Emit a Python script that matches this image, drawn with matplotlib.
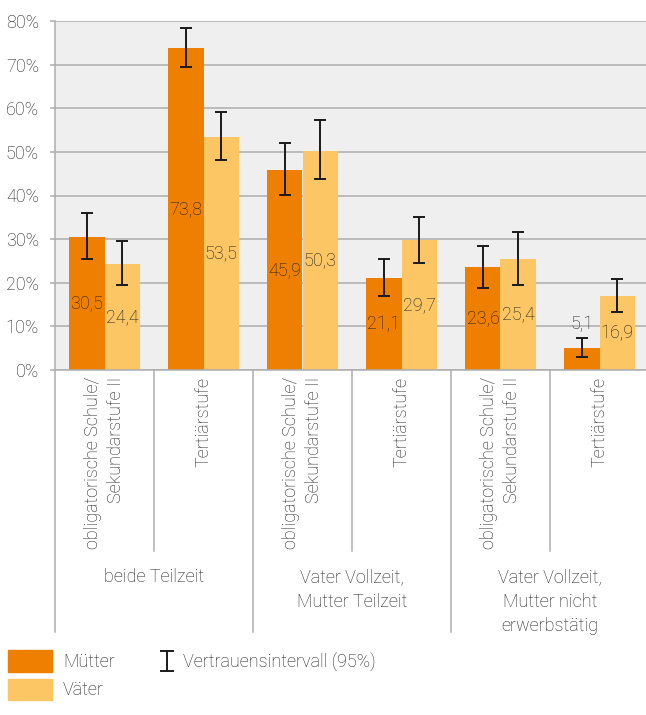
import numpy as np
import matplotlib.pyplot as plt
from matplotlib.patches import Rectangle
from matplotlib.lines import Line2D

plt.rcParams['font.family'] = ['Roboto', 'DejaVu Sans']
plt.rcParams['font.weight'] = 'light'

# Data
levels = ["obligatorische Schule/\nSekundarstufe II", "Tertiärstufe"] * 3
groups = ["beide Teilzeit", "Vater Vollzeit,\nMutter Teilzeit",
          "Vater Vollzeit,\nMutter nicht\nerwerbstätig"]
muetter = [30.5, 73.8, 45.9, 21.1, 23.6, 5.1]
muetter_lo = [25.4, 69.5, 40.2, 17.0, 18.9, 3.0]
muetter_hi = [36.0, 78.5, 52.0, 25.4, 28.5, 7.4]
vaeter = [24.4, 53.5, 50.3, 29.7, 25.4, 16.9]
vaeter_lo = [19.4, 48.2, 43.7, 24.6, 19.4, 13.3]
vaeter_hi = [29.6, 59.1, 57.2, 35.1, 31.7, 20.9]

c_m = "#EE7F00"
c_v = "#FCC664"
grid_c = "#ADADAD"
txt_c = "#1e1e1e"
fs = 13

fig = plt.figure(figsize=(6.46, 7.15), dpi=100)
W, H = 646, 715
ax = fig.add_axes([55 / W, 1 - 370 / H, 594 / W, 349 / H])
ax.set_facecolor("#EFEFEF")

x = np.arange(len(levels))
bw = 0.354

m = np.array(muetter)
v = np.array(vaeter)
err_m = [m - np.array(muetter_lo), np.array(muetter_hi) - m]
err_v = [v - np.array(vaeter_lo), np.array(vaeter_hi) - v]

ax.bar(x - bw / 2, m, bw, color=c_m, zorder=2)
ax.bar(x + bw / 2, v, bw, color=c_v, zorder=2)
ax.errorbar(x - bw / 2, m, yerr=err_m, fmt="none", ecolor="#1a1a1a",
            elinewidth=1.4, capsize=4.2, capthick=1.4, zorder=3)
ax.errorbar(x + bw / 2, v, yerr=err_v, fmt="none", ecolor="#1a1a1a",
            elinewidth=1.4, capsize=4.2, capthick=1.4, zorder=3)

# value labels
for xi, val, hi in zip(x - bw / 2, muetter, muetter_hi):
    y = val / 2 if val > 10 else hi + 3
    ax.text(xi, y, f"{val:.1f}".replace(".", ","), ha="center", va="center",
            fontsize=fs, color=txt_c, zorder=4)
for xi, val, hi in zip(x + bw / 2, vaeter, vaeter_hi):
    y = val / 2 if val > 10 else hi + 3
    ax.text(xi, y, f"{val:.1f}".replace(".", ","), ha="center", va="center",
            fontsize=fs, color=txt_c, zorder=4)

ax.set_xlim(-0.5, len(levels) - 0.5)
ax.set_ylim(0, 80)
ax.set_yticks(range(0, 81, 10))
ax.set_yticklabels([f"{t}%" for t in range(0, 81, 10)], fontsize=fs, color=txt_c)
ax.yaxis.grid(True, color=grid_c, linewidth=1.1, zorder=0)
ax.set_axisbelow(True)
ax.tick_params(axis="y", length=3.5, color=grid_c, width=1.1, pad=8)
ax.set_xticks([])
for s in ["top", "right"]:
    ax.spines[s].set_visible(False)
for s in ["left", "bottom"]:
    ax.spines[s].set_color(grid_c)
    ax.spines[s].set_linewidth(1.1)

# category dividers below axis
tr = ax.get_xaxis_transform()
for i in range(len(levels)):
    bottom = -0.75 if i % 2 == 0 else -0.52
    ax.plot([i - 0.5, i - 0.5], [0, bottom], transform=tr, color=grid_c,
            linewidth=1.1, clip_on=False)

# rotated level labels
for xi, lab in zip(x, levels):
    ax.text(xi, -0.02, lab, transform=tr, rotation=90, ha="center", va="top",
            multialignment="right", fontsize=fs, color=txt_c, linespacing=1.4)

# group labels
for gi, g in enumerate(groups):
    ax.text(2 * gi + 0.5, -0.568, g, transform=tr, ha="center", va="top",
            fontsize=fs, color=txt_c, linespacing=1.45)

# legend
fig.patches.append(Rectangle((8 / W, 1 - 672 / H), 44 / W, 22 / H,
                             transform=fig.transFigure, color=c_m))
fig.patches.append(Rectangle((8 / W, 1 - 700 / H), 44 / W, 21 / H,
                             transform=fig.transFigure, color=c_v))
fig.text(63 / W, 1 - 662 / H, "Mütter", fontsize=fs, color=txt_c, va="center")
fig.text(63 / W, 1 - 690 / H, "Väter", fontsize=fs, color=txt_c, va="center")
ex = 167
fig.lines.append(Line2D([ex / W, ex / W], [1 - 651 / H, 1 - 671 / H],
                        transform=fig.transFigure, color="#1a1a1a", linewidth=1.4))
for yy in (651, 671):
    fig.lines.append(Line2D([(ex - 6) / W, (ex + 6) / W], [1 - yy / H, 1 - yy / H],
                            transform=fig.transFigure, color="#1a1a1a", linewidth=1.4))
fig.text(183 / W, 1 - 662 / H, "Vertrauensintervall (95%)", fontsize=fs,
         color=txt_c, va="center")

fig.savefig("out.png", dpi=100)
plt.close(fig)
